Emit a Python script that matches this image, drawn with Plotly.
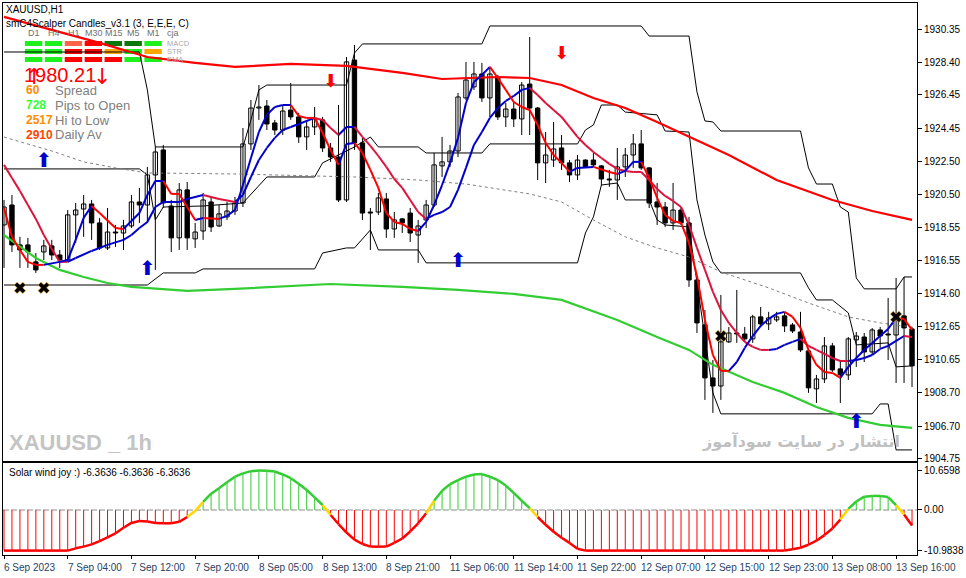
import plotly.graph_objects as go

# H1 candles, bar 0 = first visible bar (6 Sep 2023 evening)
opens = [1918.69, 1919.88, 1917.50, 1917.50, 1916.49, 1917.08, 1917.44, 1916.90, 1916.60, 1919.29,
         1919.64, 1919.94, 1918.81, 1917.32, 1918.27, 1918.21, 1918.63, 1920.06, 1919.88, 1921.67,
         1923.16, 1919.82, 1917.92, 1920.78, 1917.86, 1918.33, 1920.06, 1918.63, 1919.17, 1919.52,
         1920.00, 1923.52, 1925.66, 1925.78, 1924.77, 1924.35, 1925.54, 1925.13, 1923.94, 1924.53,
         1924.95, 1923.28, 1922.74, 1920.18, 1928.52, 1923.58, 1919.46, 1919.46, 1920.24, 1918.45,
         1919.05, 1919.40, 1918.09, 1918.99, 1919.88, 1922.21, 1922.45, 1923.10, 1926.26, 1926.92,
         1927.69, 1926.26, 1927.45, 1925.13, 1925.60, 1925.01, 1927.09, 1925.66, 1922.39, 1922.56,
         1923.28, 1922.39, 1921.67, 1922.56, 1922.56, 1922.21, 1921.43, 1921.37, 1922.15, 1922.86,
         1923.52, 1922.09, 1920.06, 1919.76, 1918.81, 1919.58, 1918.81, 1915.41, 1912.73, 1909.57,
         1909.09, 1911.72, 1912.25, 1912.19, 1911.90, 1913.21, 1912.79, 1913.03, 1913.27, 1912.73,
         1912.31, 1911.18, 1908.92, 1909.51, 1911.48, 1910.11, 1909.75, 1911.84, 1912.01, 1911.12,
         1912.43, 1912.19, 1912.13, 1913.27, 1912.49]
highs = [1920.18, 1920.48, 1917.98, 1917.92, 1917.02, 1917.80, 1917.80, 1917.20, 1919.58, 1920.00,
         1920.48, 1920.18, 1919.11, 1919.70, 1918.69, 1918.99, 1920.48, 1920.90, 1922.15, 1923.34,
         1923.46, 1920.18, 1921.19, 1921.25, 1918.81, 1920.60, 1920.36, 1919.88, 1920.06, 1920.36,
         1924.47, 1926.14, 1927.03, 1926.14, 1924.95, 1925.84, 1927.15, 1925.37, 1924.95, 1925.72,
         1925.13, 1923.58, 1925.84, 1928.70, 1929.42, 1923.88, 1919.70, 1920.60, 1920.60, 1919.46,
         1919.11, 1919.70, 1918.99, 1920.18, 1922.98, 1923.94, 1923.46, 1926.56, 1928.41, 1928.41,
         1928.35, 1928.11, 1927.63, 1925.96, 1926.02, 1927.21, 1929.89, 1925.72, 1924.23, 1924.83,
         1924.05, 1922.56, 1922.86, 1922.60, 1922.98, 1922.25, 1921.97, 1923.28, 1923.28, 1924.11,
         1924.35, 1922.15, 1921.19, 1920.06, 1921.19, 1919.76, 1919.17, 1915.59, 1913.62, 1910.64,
         1914.52, 1912.61, 1914.82, 1912.61, 1913.33, 1913.80, 1913.51, 1913.51, 1913.51, 1912.85,
         1913.51, 1911.36, 1909.75, 1912.01, 1911.66, 1910.64, 1912.01, 1912.31, 1912.25, 1912.55,
         1912.61, 1914.34, 1915.53, 1915.59, 1912.61]
lows = [1916.13, 1917.08, 1916.13, 1916.13, 1915.83, 1916.60, 1916.60, 1916.13, 1916.49, 1917.62,
        1917.98, 1917.80, 1917.20, 1917.20, 1917.38, 1917.20, 1918.51, 1918.81, 1918.81, 1916.01,
        1919.70, 1917.08, 1917.20, 1917.20, 1917.32, 1917.80, 1918.27, 1918.57, 1918.99, 1919.29,
        1919.76, 1923.16, 1924.95, 1924.35, 1924.05, 1924.05, 1924.95, 1923.58, 1923.16, 1924.05,
        1923.04, 1922.45, 1920.06, 1920.06, 1923.16, 1918.99, 1917.20, 1919.29, 1917.92, 1917.92,
        1918.21, 1917.68, 1916.43, 1918.51, 1919.76, 1921.55, 1922.15, 1922.74, 1926.14, 1926.74,
        1926.02, 1925.13, 1924.95, 1924.53, 1924.53, 1924.05, 1924.05, 1921.37, 1921.19, 1922.15,
        1921.97, 1921.25, 1921.37, 1922.09, 1922.15, 1921.07, 1920.96, 1920.18, 1921.55, 1922.09,
        1921.97, 1919.70, 1918.69, 1918.57, 1918.39, 1918.69, 1915.00, 1912.25, 1908.26, 1907.49,
        1908.26, 1911.66, 1911.66, 1911.72, 1911.66, 1912.61, 1912.43, 1912.91, 1912.31, 1912.25,
        1911.12, 1908.68, 1908.08, 1909.27, 1909.93, 1908.08, 1909.45, 1910.23, 1910.52, 1910.94,
        1911.36, 1910.64, 1909.27, 1909.27, 1909.03]
closes = [1919.76, 1917.50, 1917.20, 1917.08, 1916.01, 1917.44, 1916.90, 1916.60, 1919.29, 1919.58,
          1919.94, 1918.81, 1917.32, 1918.27, 1918.21, 1918.63, 1920.06, 1919.88, 1921.67, 1923.04,
          1920.00, 1917.92, 1920.78, 1917.92, 1918.27, 1920.18, 1918.57, 1919.35, 1919.52, 1920.00,
          1923.52, 1925.66, 1925.72, 1924.71, 1924.35, 1925.48, 1925.13, 1923.94, 1924.53, 1925.01,
          1923.28, 1922.74, 1920.18, 1928.41, 1923.58, 1919.40, 1919.40, 1920.30, 1918.45, 1918.99,
          1918.81, 1918.21, 1918.63, 1919.88, 1922.27, 1922.45, 1923.10, 1926.32, 1927.33, 1927.69,
          1926.26, 1927.69, 1925.13, 1925.60, 1925.01, 1927.03, 1925.66, 1922.39, 1922.86, 1923.22,
          1922.39, 1921.67, 1922.56, 1922.15, 1922.27, 1921.43, 1921.37, 1922.15, 1922.86, 1923.52,
          1922.09, 1920.00, 1919.76, 1918.81, 1919.58, 1918.81, 1915.41, 1912.85, 1909.57, 1909.09,
          1911.72, 1912.25, 1912.19, 1911.90, 1913.21, 1912.79, 1913.15, 1913.21, 1912.67, 1912.37,
          1911.24, 1908.98, 1909.51, 1911.48, 1910.05, 1909.75, 1911.90, 1912.07, 1911.12, 1912.43,
          1912.07, 1912.13, 1913.33, 1912.55, 1910.29]
bars = list(range(len(opens)))

time_tick_bars = list(range(0, 113, 8))
time_tick_labels = ["6 Sep 2023", "7 Sep 04:00", "7 Sep 12:00", "7 Sep 20:00", "8 Sep 05:00",
                    "8 Sep 13:00", "8 Sep 21:00", "11 Sep 06:00", "11 Sep 14:00", "11 Sep 22:00",
                    "12 Sep 07:00", "12 Sep 15:00", "12 Sep 23:00", "13 Sep 08:00", "13 Sep 16:00"]
price_ticks = [1930.35, 1928.40, 1926.45, 1924.45, 1922.50, 1920.50, 1918.55, 1916.55,
               1914.60, 1912.65, 1910.65, 1908.70, 1906.70, 1904.75]
osc_ticks = [10.6598, 0.0, -10.9838]

# slow moving averages (vertices)
ma_red_bars = [0, 6, 12, 18, 24, 29, 36, 43, 50, 55, 58, 62, 66, 70, 74, 78, 82, 86, 91, 97, 104, 109, 114]
ma_red_vals = [1931.09, 1930.31, 1929.54, 1928.70, 1928.35, 1928.11, 1928.29, 1928.17, 1927.75, 1927.39,
               1927.45, 1927.51, 1927.45, 1927.03, 1926.26, 1925.66, 1924.83, 1923.94, 1922.86, 1921.37,
               1920.18, 1919.52, 1918.99]
ma_green_bars = [0, 4, 7, 10, 13, 16, 23, 29, 41, 50, 57, 64, 70, 77, 82, 86, 89, 94, 98, 102, 106, 110, 114]
ma_green_vals = [1918.09, 1916.72, 1916.01, 1915.59, 1915.23, 1915.00, 1914.76, 1914.88, 1915.17, 1915.00,
                 1914.82, 1914.58, 1914.22, 1913.03, 1912.01, 1911.24, 1910.35, 1909.33, 1908.68, 1907.84,
                 1907.19, 1906.77, 1906.59]
ma_dash_bars = [0, 6, 10, 14, 18, 29, 44, 52, 58, 66, 70, 74, 78, 82, 86, 90, 96, 101, 106, 110, 114]
ma_dash_vals = [1923.93, 1923.10, 1922.45, 1922.09, 1921.79, 1921.73, 1921.55, 1921.37, 1921.13, 1920.54,
                1920.06, 1918.99, 1917.98, 1917.32, 1916.78, 1915.89, 1914.94, 1914.04, 1913.21, 1912.85,
                1912.61]

# fast scalper line and its slower companion
fast_bars = [0, 1, 2, 3, 4, 5, 7, 8, 9, 10, 11, 12, 14, 15, 16, 17, 18, 19, 20, 21, 22, 23, 24, 25, 27, 28,
             29, 30, 31, 32, 33, 34, 35, 36, 37, 38, 39, 40, 41, 42, 43, 44, 45, 46, 47, 48, 49, 50, 51, 52,
             53, 54, 55, 56, 57, 58, 59, 60, 61, 62, 63, 64, 65, 66, 67, 68, 69, 70, 71, 72, 74, 76, 77, 78,
             79, 80, 81, 82, 83, 84, 85, 86, 87, 88, 89, 90, 91, 92, 93, 94, 95, 96, 97, 98, 99, 100, 101,
             102, 103, 104, 105, 106, 107, 108, 109, 110, 111, 112, 113, 114]
fast_vals = [1919.70, 1917.98, 1917.20, 1916.49, 1916.31, 1916.31, 1916.49, 1916.60, 1917.80, 1919.11,
             1919.82, 1919.40, 1918.51, 1918.45, 1918.93, 1919.40, 1920.48, 1921.31, 1921.31, 1920.54,
             1920.54, 1919.76, 1918.99, 1919.11, 1919.05, 1919.23, 1919.58, 1921.07, 1922.68, 1924.23,
             1925.25, 1925.72, 1925.84, 1925.84, 1925.19, 1925.07, 1925.07, 1924.17, 1923.16, 1922.27,
             1923.52, 1923.58, 1922.98, 1921.97, 1920.90, 1919.40, 1918.87, 1918.75, 1918.45, 1918.33,
             1918.87, 1919.88, 1921.07, 1922.39, 1923.88, 1925.96, 1927.21, 1927.63, 1928.11, 1927.45,
             1926.74, 1926.02, 1925.72, 1925.54, 1924.65, 1923.58, 1922.86, 1922.39, 1921.85, 1922.09,
             1922.15, 1921.85, 1921.73, 1921.91, 1922.45, 1922.45, 1921.49, 1920.30, 1919.29, 1918.93,
             1918.81, 1917.62, 1915.65, 1913.03, 1910.94, 1909.99, 1909.99, 1910.52, 1911.36, 1912.07,
             1912.67, 1913.09, 1913.39, 1913.51, 1913.21, 1912.55, 1911.24, 1910.35, 1909.93, 1909.87,
             1909.57, 1910.23, 1910.76, 1911.24, 1911.66, 1912.07, 1912.49, 1913.15, 1913.09, 1912.43]
slow_bars = [0, 1, 2, 3, 4, 5, 6, 7, 8, 9, 11, 13, 15, 16, 17, 18, 19, 20, 22, 23, 25, 27, 29, 30, 31, 32,
             33, 34, 35, 36, 37, 39, 40, 41, 42, 43, 44, 45, 46, 47, 48, 49, 50, 51, 52, 53, 54, 55, 56, 57,
             58, 59, 60, 61, 62, 63, 64, 65, 66, 67, 68, 69, 70, 71, 72, 73, 74, 75, 76, 77, 78, 79, 80, 81,
             82, 83, 84, 85, 86, 87, 88, 89, 90, 91, 92, 93, 94, 95, 96, 97, 98, 99, 100, 101, 102, 103, 104,
             105, 106, 107, 108, 109, 110, 111, 112, 113, 114]
slow_vals = [1922.27, 1921.49, 1920.72, 1919.88, 1919.05, 1918.09, 1917.26, 1916.49, 1916.49, 1916.72,
             1917.14, 1917.50, 1917.80, 1918.09, 1918.51, 1918.87, 1919.76, 1920.06, 1920.06, 1920.24,
             1920.48, 1920.24, 1920.06, 1920.48, 1921.55, 1922.56, 1923.28, 1923.88, 1924.35, 1924.53,
             1924.71, 1925.07, 1924.95, 1924.47, 1924.05, 1924.53, 1924.53, 1923.94, 1923.40, 1922.80,
             1922.15, 1921.43, 1920.90, 1920.18, 1919.46, 1919.05, 1919.29, 1919.46, 1919.76, 1920.78,
             1922.09, 1923.46, 1924.23, 1925.07, 1925.66, 1926.08, 1926.38, 1926.74, 1926.86, 1926.44,
             1925.96, 1925.54, 1925.13, 1924.53, 1923.94, 1923.46, 1923.04, 1922.68, 1922.33, 1922.03,
             1921.91, 1921.85, 1921.85, 1921.37, 1920.84, 1920.42, 1920.12, 1919.76, 1918.69, 1917.32,
             1916.01, 1914.70, 1913.62, 1912.85, 1912.25, 1911.72, 1911.42, 1911.24, 1911.24, 1911.30,
             1911.54, 1911.72, 1911.90, 1911.48, 1911.24, 1911.00, 1910.76, 1910.58, 1910.58, 1910.64,
             1910.76, 1910.94, 1911.30, 1911.48, 1911.78, 1912.07, 1912.01]

# channel lines (thin black)
band_outer_bars = [0, 17, 18, 19, 30, 31, 32, 33, 43, 44, 45, 60, 61, 80, 81, 86, 87, 88, 89, 90, 100, 101,
                   102, 104, 105, 106, 107, 108, 112, 113, 114]
band_outer_vals = [1929.00, 1929.00, 1926.74, 1923.34, 1923.34, 1924.95, 1926.74, 1927.03, 1927.03, 1928.94,
                   1929.48, 1929.48, 1930.55, 1930.55, 1929.95, 1929.95, 1926.62, 1924.89, 1924.83, 1924.29,
                   1924.29, 1922.09, 1921.13, 1921.13, 1919.76, 1919.46, 1915.53, 1914.88, 1914.88, 1915.59,
                   1915.59]
band_upper_bars = [0, 17, 18, 19, 20, 25, 30, 33, 39, 40, 44, 46, 47, 52, 53, 60, 61, 72, 73, 74, 75, 77, 78,
                   82, 83, 86, 87, 88, 89, 90, 100, 101, 102, 104, 106, 107, 111, 112, 114]
band_upper_vals = [1922.03, 1922.03, 1921.67, 1918.99, 1919.76, 1919.82, 1920.00, 1921.55, 1921.55, 1922.39,
                   1923.34, 1923.93, 1923.34, 1923.34, 1922.98, 1922.98, 1923.52, 1923.52, 1924.35, 1924.65,
                   1925.84, 1925.84, 1925.42, 1925.25, 1924.29, 1924.23, 1920.18, 1918.09, 1916.49, 1915.83,
                   1915.83, 1914.94, 1914.22, 1914.22, 1913.45, 1911.54, 1911.66, 1910.23, 1910.29]
band_lower_bars = [0, 18, 20, 24, 25, 39, 40, 43, 44, 46, 47, 52, 53, 72, 73, 74, 75, 77, 78, 81, 82, 83, 86,
                   89, 90, 109, 110, 111, 112, 114]
band_lower_vals = [1915.11, 1915.11, 1915.83, 1915.83, 1916.07, 1916.07, 1917.02, 1917.32, 1917.32, 1918.39,
                   1917.20, 1917.20, 1916.43, 1916.43, 1918.21, 1919.17, 1921.07, 1921.19, 1920.18, 1920.18,
                   1918.99, 1918.69, 1918.57, 1908.68, 1907.43, 1907.43, 1908.02, 1908.02, 1905.28, 1905.28]

# signal arrows and crosses
buy_bars = [5, 18, 57, 107]
buy_prices = [1922.45, 1916.01, 1916.49, 1906.89]
sell_bars = [41, 70]
sell_prices = [1927.21, 1928.88]
cross_bars = [2, 5, 90, 112]
cross_prices = [1914.94, 1914.94, 1912.07, 1913.21]

# Solar wind joy oscillator
osc_vals = [-10.98, -10.98, -10.98, -10.98, -10.98, -10.98, -10.98, -10.98, -10.98, -10.37,
            -9.9, -9.3, -8.4, -7.4, -6.3, -4.8, -3.5, -3.0, -3.1, -3.5,
            -3.6, -3.6, -3.2, -1.9, -0.3, 2.2, 4.4, 5.9, 7.5, 9.0,
            9.9, 10.5, 10.66, 10.6, 10.4, 9.6, 8.6, 7.1, 5.4, 3.4,
            1.35, -1.35, -3.8, -6.1, -8.0, -9.2, -9.9, -9.95, -9.9, -8.9,
            -7.7, -5.8, -3.6, -0.9, 2.5, 5.2, 7.0, 8.1, 9.0, 9.6,
            9.7, 9.0, 8.1, 6.6, 4.6, 2.5, 0.5, -1.9, -4.0, -5.9,
            -7.5, -8.9, -10.5, -10.98, -10.98, -10.98, -10.98, -10.98, -10.98, -10.98,
            -10.98, -10.98, -10.98, -10.98, -10.98, -10.98, -10.98, -10.98, -10.98, -10.98,
            -10.98, -10.98, -10.98, -10.98, -10.98, -10.98, -10.98, -10.98, -10.98, -10.6,
            -10.2, -9.4, -8.3, -6.8, -5.0, -2.6, 0.3, 2.3, 3.6, 3.8,
            3.8, 3.5, 1.3, -1.2, -4.2]

# multi-timeframe panel
tf_names = ["D1", "H4", "H1", "M30", "M15", "M5", "M1", "cja"]
mtf_rows = ["MACD", "STR", "EMA"]
LIME, GRN, RED, TOM, ORG = "#1ef01e", "#0a780a", "#ff0000", "#ff6347", "#ffa500"
mtf_macd = [LIME, LIME, TOM, RED, GRN, GRN, LIME]
mtf_str = [LIME, LIME, RED, RED, ORG, LIME, ORG]
mtf_ema = [LIME, LIME, RED, RED, RED, LIME, LIME]

info_values = ["60", "728", "2517", "2910"]
info_labels = ["Spread", "Pips to Open", "Hi to Low", "Daily Av"]
info_colors = ["#ff8c00", "#33ff33", "#ff8c00", "#ff4500"]

BLUE = "#0000cd"
FONT = "Liberation Sans"


def px_x(x):
    return (x - 2) / 918


def px_y(y):
    return (555 - y) / 552


def slope_segments(xs, ys, up_color, down_color):
    segs = {up_color: ([], []), down_color: ([], [])}
    col = down_color
    for k in range(len(xs) - 1):
        if ys[k + 1] > ys[k]:
            col = up_color
        elif ys[k + 1] < ys[k]:
            col = down_color
        sx, sy = segs[col]
        sx += [xs[k], xs[k + 1], None]
        sy += [ys[k], ys[k + 1], None]
    return segs


fig = go.Figure()

# channel lines and dashed average
for bx, bv in [(band_outer_bars, band_outer_vals), (band_upper_bars, band_upper_vals),
               (band_lower_bars, band_lower_vals)]:
    fig.add_trace(go.Scatter(x=bx, y=bv, mode="lines", line=dict(color="black", width=1)))
fig.add_trace(go.Scatter(x=ma_dash_bars, y=ma_dash_vals, mode="lines",
                         line=dict(color="#808080", width=1, dash="3px,3px")))

# candles: wicks then bodies
wx, wy = [], []
for i in bars:
    wx += [i, i, None]
    wy += [lows[i], highs[i], None]
fig.add_trace(go.Scatter(x=wx, y=wy, mode="lines", line=dict(color="black", width=1)))
fig.add_trace(go.Bar(
    x=bars,
    y=[max(abs(c - o), 0.04) for o, c in zip(opens, closes)],
    base=[min(o, c) for o, c in zip(opens, closes)],
    width=0.55,
    marker=dict(color=["white" if c >= o else "black" for o, c in zip(opens, closes)],
                line=dict(color="black", width=1)),
))

# moving averages
fig.add_trace(go.Scatter(x=ma_green_bars, y=ma_green_vals, mode="lines",
                         line=dict(color="#32cd32", width=2.2)))
fig.add_trace(go.Scatter(x=ma_red_bars, y=ma_red_vals, mode="lines",
                         line=dict(color="#ff0000", width=2.2)))
for xs, ys, down in [(slow_bars, slow_vals, "#dc143c"), (fast_bars, fast_vals, "#ff0000")]:
    for color, (sx, sy) in slope_segments(xs, ys, BLUE, down).items():
        fig.add_trace(go.Scatter(x=sx, y=sy, mode="lines", line=dict(color=color, width=2)))

# signals
fig.add_trace(go.Scatter(x=buy_bars, y=buy_prices, mode="text", text=["⬆"] * len(buy_bars),
                         textfont=dict(color=BLUE, size=20, family="DejaVu Sans")))
fig.add_trace(go.Scatter(x=sell_bars, y=sell_prices, mode="text", text=["⬇"] * len(sell_bars),
                         textfont=dict(color="#ff0000", size=18, family="DejaVu Sans")))
fig.add_trace(go.Scatter(x=cross_bars, y=cross_prices, mode="markers",
                         marker=dict(symbol="x", size=10, color="black",
                                     line=dict(color="#e8a020", width=0.6))))

# oscillator panel
gx, gy, rx, ry = [], [], [], []
for i, v in enumerate(osc_vals):
    if v > 0:
        gx += [i, i, None]
        gy += [0, v, None]
    else:
        rx += [i, i, None]
        ry += [0, v, None]
fig.add_trace(go.Scatter(x=[-0.125, 114.625], y=[0, 0], mode="lines", xaxis="x2", yaxis="y2",
                         line=dict(color="#b4b4b4", width=1.5, dash="6px,2px")))
fig.add_trace(go.Scatter(x=gx, y=gy, mode="lines", xaxis="x2", yaxis="y2",
                         line=dict(color="#32cd32", width=1)))
fig.add_trace(go.Scatter(x=rx, y=ry, mode="lines", xaxis="x2", yaxis="y2",
                         line=dict(color="#ff0000", width=1)))
curve = {"#32cd32": ([], []), "#ff0000": ([], []), "#ffd700": ([], [])}
for i in range(len(osc_vals) - 1):
    mid = (osc_vals[i] + osc_vals[i + 1]) / 2
    col = "#ffd700" if abs(mid) < 1.2 else ("#32cd32" if mid > 0 else "#ff0000")
    curve[col][0].extend([i, i + 1, None])
    curve[col][1].extend([osc_vals[i], osc_vals[i + 1], None])
for col, (sx, sy) in curve.items():
    fig.add_trace(go.Scatter(x=sx, y=sy, mode="lines", xaxis="x2", yaxis="y2",
                             line=dict(color=col, width=2.5)))

# texts
ann = []


def text(x, y, s, size=10, color="black", anchor="left", family=FONT, **kw):
    ann.append(dict(x=px_x(x), y=px_y(y), xref="paper", yref="paper", text=s, showarrow=False,
                    xanchor=anchor, yanchor="middle", font=dict(size=size, color=color, family=family), **kw))


text(3, 10, "XAUUSD,H1")
text(3, 23, "smC4Scalper Candles_v3.1 (3, E,E,E, C)")
tf_x = [33, 53, 73, 93, 113, 133, 153, 173]
for name, cx in zip(tf_names, tf_x):
    text(cx, 33, name, size=9, color="#707070", anchor="center")
row_y = [43.5, 51.5, 59.5]
for name, ry_ in zip(mtf_rows, row_y):
    text(165, ry_, name, size=7.5, color="#a8a8a8")
shapes = []
for colors, ry_ in zip([mtf_macd, mtf_str, mtf_ema], row_y):
    for k, c in enumerate(colors):
        shapes.append(dict(type="rect", xref="paper", yref="paper", layer="below",
                           x0=px_x(24 + 20 * k), x1=px_x(41.5 + 20 * k),
                           y0=px_y(ry_ + 2.5), y1=px_y(ry_ - 2.5), fillcolor=c, line=dict(width=0)))

text(21, 75, "1980.21", size=20, color="#ff0000")
text(22, 76, "↑", size=22, color="#ff0000", family="DejaVu Sans")
text(90, 76, "↓", size=22, color="#ff0000", family="DejaVu Sans")
for k, (v, lab, c) in enumerate(zip(info_values, info_labels, info_colors)):
    yy = 90 + 15 * k
    text(23, yy, "<b>" + v + "</b>", size=12, color=c)
    text(52, yy, lab, size=13, color="#808080")

text(6, 442, "<b>XAUUSD _ 1h</b>", size=22, color="#c4c4c4")
text(905, 441, "<b>انتشار در سایت سودآموز</b>", size=16, color="#c0c0c0", anchor="right",
     family="DejaVu Sans")
text(6, 472, "Solar wind joy :) -6.3636 -6.3636 -6.3636", size=10)

for b, lab in zip(time_tick_bars, time_tick_labels):
    ann.append(dict(x=b, y=px_y(567), xref="x2", yref="paper", text=lab, showarrow=False,
                    xanchor="left", yanchor="middle", xshift=-2, font=dict(size=10, family=FONT)))

axis_font = dict(family=FONT, size=10, color="black")
fig.update_layout(
    width=966, height=578,
    margin=dict(l=2, r=46, t=3, b=23),
    paper_bgcolor="white", plot_bgcolor="white",
    showlegend=False, hovermode=False, barmode="overlay",
    annotations=ann, shapes=shapes,
    xaxis=dict(domain=[0, 1], range=[-0.125, 114.625], anchor="y", showgrid=False, zeroline=False,
               showticklabels=False, showline=True, mirror=True, linecolor="black", linewidth=1),
    yaxis=dict(domain=[0.1703, 1], range=[1904.62, 1931.92], side="right", anchor="x",
               tickvals=price_ticks, ticktext=["%.2f" % v for v in price_ticks],
               ticks="outside", ticklen=4, tickcolor="black", tickfont=axis_font,
               showgrid=False, zeroline=False, showline=True, mirror=True, linecolor="black", linewidth=1),
    xaxis2=dict(domain=[0, 1], range=[-0.125, 114.625], anchor="y2", showgrid=False, zeroline=False,
                tickvals=time_tick_bars, showticklabels=False, ticks="outside", ticklen=3,
                tickcolor="black", showline=True, mirror=True, linecolor="black", linewidth=1),
    yaxis2=dict(domain=[0, 0.1667], range=[-12.17, 12.71], side="right", anchor="x2",
                tickvals=osc_ticks, ticktext=["10.6598", "0.00", "-10.9838"],
                ticks="outside", ticklen=4, tickcolor="black", tickfont=axis_font,
                showgrid=False, zeroline=False, showline=True, mirror=True, linecolor="black", linewidth=1),
)

# drop the browser's default page margin so the 966x578 figure fills the window
fig.write_html("out.html", config={"displayModeBar": False},
               post_script="document.body.style.margin='0';")
